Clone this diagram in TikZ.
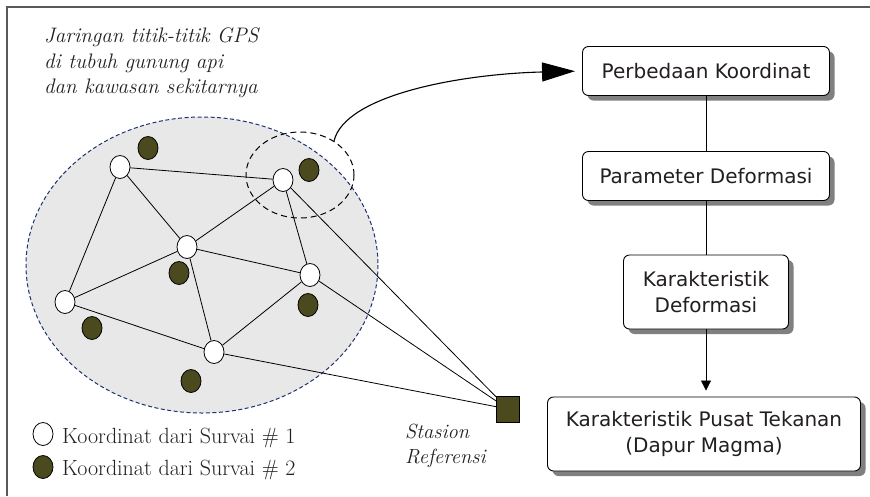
\documentclass[tikz,border=0pt]{standalone}
\usepackage{fontspec}
\setsansfont{DejaVu Sans}
\usepackage{tikz}
\usetikzlibrary{shapes.geometric}
\usetikzlibrary{shadows}
\usetikzlibrary{arrows.meta}
\usetikzlibrary{positioning}
\definecolor{olivedot}{HTML}{4A4A1E}
\definecolor{ringblue}{HTML}{1F3270}
\definecolor{areagray}{HTML}{E8E8E8}
\definecolor{inkgray}{HTML}{231F20}

\tikzset{
  gpsone/.style={ellipse, draw, fill=white, line width=0.8pt,
    minimum width=20pt, minimum height=23pt, inner sep=0pt},
  gpstwo/.style={gpsone, fill=olivedot},
  refstation/.style={rectangle, draw, fill=olivedot, line width=0.8pt,
    minimum width=23pt, minimum height=26pt, inner sep=0pt},
  flowbox/.style={rectangle, rounded corners=6pt, draw, fill=white,
    line width=0.9pt, align=center, text=inkgray,
    font=\sffamily\fontsize{20}{26}\selectfont,
    drop shadow={shadow xshift=5pt, shadow yshift=-5pt,
      fill=black!50, opacity=1}},
  link/.style={line width=0.8pt}
}

\begin{document}
\begin{tikzpicture}[x=1pt, y=-1pt]

\useasboundingbox (0,0) rectangle (870,496);

% frame
\draw[line width=1.5pt, black!65] (7,496) -- (7,7) -- (870,7);

% area of the volcano
\draw[ringblue, dash pattern=on 4pt off 2.5pt, fill=areagray, line width=1pt]
  (202,265) ellipse [x radius=176, y radius=148];

\node[anchor=north west, align=left, inner sep=0pt, text=inkgray,
  font=\itshape\fontsize{21}{25.5}\selectfont] (title) at (44,28)
  {Jaringan titik-titik GPS\\di tubuh gunung api\\dan kawasan sekitarnya};

% points of survey 2
\node[gpstwo] (qa) at (148,148) {};
\node[gpstwo] (qb) at (309,170) {};
\node[gpstwo] (qc) at (179,273) {};
\node[gpstwo] (qd) at (308,305) {};
\node[gpstwo] (qe) at (92,328)  {};
\node[gpstwo] (qf) at (191,381) {};

% points of survey 1
\node[gpsone] (pa) at (120,167) {};
\node[gpsone] (pb) at (283,180) {};
\node[gpsone] (pc) at (187,247) {};
\node[gpsone] (pd) at (310,275) {};
\node[gpsone] (pe) at (65,302)  {};
\node[gpsone] (pf) at (214,352) {};

\node[refstation] (station) at (508,409) {};

% network
\draw[link] (pa) -- (pb);
\draw[link] (pa) -- (pe);
\draw[link] (pa) -- (pc);
\draw[link] (pb) -- (pc);
\draw[link] (pb) -- (pd);
\draw[link] (pc) -- (pe);
\draw[link] (pc) -- (pd);
\draw[link] (pc) -- (pf);
\draw[link] (pd) -- (pf);
\draw[link] (pe) -- (pf);
\draw[link] (pb) -- (station);
\draw[link] (pd) -- (station);
\draw[link] (pf) -- (station);

\node[anchor=base west, inner sep=0pt, text=inkgray, font=\itshape\fontsize{20.5}{25}\selectfont]
  (stasion) at (405,438) {Stasion};
\node[anchor=base west, inner sep=0pt, text=inkgray, font=\itshape\fontsize{20.5}{25}\selectfont]
  (referensi) at (405,463) {Referensi};

% legend
\node[gpsone] (keyone) at (43,434) {};
\node[gpstwo] (keytwo) at (43,467) {};
\node[anchor=base west, inner sep=0pt, text=inkgray, font=\fontsize{22}{26}\selectfont]
  (keyonetext) at (62,443) {Koordinat dari Survai \# 1};
\node[anchor=base west, inner sep=0pt, text=inkgray, font=\fontsize{22}{26}\selectfont]
  (keytwotext) at (62,475) {Koordinat dari Survai \# 2};

% flow on the right
\node[flowbox, minimum width=247pt, minimum height=49pt] (diff)   at (706,71)  {Perbedaan Koordinat};
\node[flowbox, minimum width=247pt, minimum height=49pt] (param)  at (706,176) {Parameter Deformasi};
\node[flowbox, minimum width=165pt, minimum height=74pt] (charac) at (706,292) {Karakteristik\\Deformasi};
\node[flowbox, minimum width=313pt, minimum height=74pt] (source) at (704,434) {Karakteristik Pusat Tekanan\\(Dapur Magma)};

\draw[link] (diff) -- (param);
\draw[link] (param) -- (charac);
\draw[link, -{Triangle[length=10pt, width=10pt]}, shorten >=6pt]
  (charac.south) -- (charac.south |- source.north);

% zoom on one point
\node[ellipse, draw, dash pattern=on 6pt off 4pt, line width=1pt,
  minimum width=108pt, minimum height=86pt] (ring) at (300,175) {};
\draw[line width=1.1pt, -{Triangle[length=33pt, width=19pt]}, shorten >=7pt]
  (ring.45) .. controls (345,95) and (460,74) .. (diff.west);

\end{tikzpicture}
\end{document}
